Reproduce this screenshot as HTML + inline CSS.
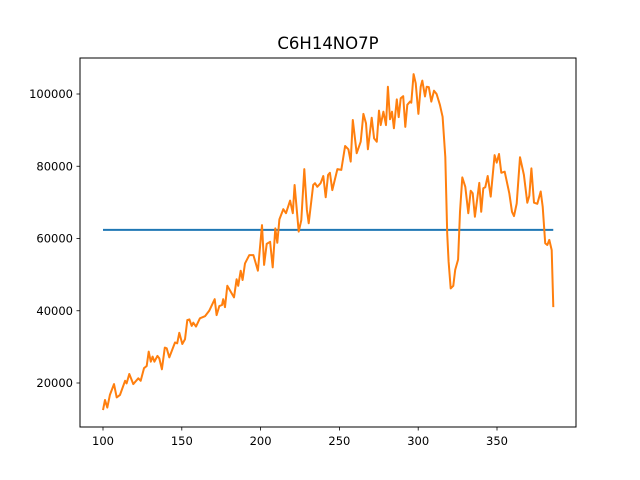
<!DOCTYPE html>
<html><head><meta charset="utf-8"><style>
body{margin:0;background:#fff;}
svg{display:block;font-family:"DejaVu Sans","Liberation Sans",sans-serif;}
</style></head><body>
<svg id="chart" width="640" height="480">
<rect width="640" height="480" fill="#fff"/>
<text x="328" y="49" font-size="16.5" text-anchor="middle">C6H14NO7P</text>
<g id="plot"></g>
<rect x="80" y="58" width="496" height="369" fill="none" stroke="#000" stroke-width="1"/>
</svg>
<script>
const xValues=[100,101.3,102.7,104.4,107.0,108.7,110.8,114.0,115.0,116.7,119.2,122.4,123.9,126.0,127.7,129.0,130.3,131.5,132.6,134.5,135.7,137.4,139.2,140.4,142.1,145.7,147.1,148.4,150.3,152.0,153.5,154.8,156.3,157.3,159.0,161.5,164.7,167.4,170.9,172.1,173.8,175.5,176.3,177.4,178.9,183.1,184.8,185.8,187.4,188.6,190.1,192.8,195.4,198.3,200.9,202.2,203.9,206.0,207.7,209.3,210.6,211.9,214.4,216.1,218.7,220.4,221.6,224.2,225.8,227.7,229.4,230.5,233.4,234.5,236.0,238.1,239.8,241.3,242.8,244.0,245.5,248.7,251.2,253.6,255.7,257.2,258.5,261.0,263.5,265.2,266.9,268.1,270.5,272.0,273.7,275.1,276.2,277.9,279.6,280.8,282.1,283.4,284.6,286.4,287.6,288.9,290.5,291.8,293.1,294.8,295.6,297.1,298.4,300.1,301.6,302.6,304.3,305.4,306.7,308.3,310.0,311.7,313.8,315.5,317.2,318.4,319.3,320.6,322.3,323.5,325.3,326.5,328.0,329.9,331.8,333.3,334.6,336.0,338.8,340.0,341.3,342.6,344.1,346.0,348.5,349.8,351.3,352.7,354.9,357.8,359.5,360.8,362.5,364.6,367.1,369.2,370.5,371.8,373.5,375.6,377.7,379.0,380.6,381.9,383.2,384.7,385.7];
const seriesValues=[12500,15300,13200,16700,19700,16000,16700,20600,19900,22500,19700,21300,20600,24100,24700,28700,25900,27300,25900,27500,26800,23800,29800,29600,27100,31200,31000,33900,30800,32100,37400,37600,35800,36700,35600,37900,38500,40000,43200,38800,41300,41600,43200,41000,46900,43700,48700,46900,51100,48500,53100,55400,55400,51100,63700,52700,58500,59100,52000,62800,58800,65300,68100,67000,70500,67000,74800,61900,65100,79200,67900,64200,74800,75300,74300,75300,77300,71400,77600,78200,73400,79200,79000,85600,84700,81300,92800,83600,86800,94500,91900,84700,93400,87700,86800,95400,91400,95100,91400,102000,93000,95100,90500,98500,93600,98800,99400,90900,97000,97900,97600,105500,103000,94500,102000,103700,99300,102000,101900,97900,100900,100000,97000,93700,82600,61400,53600,46200,46900,51300,54200,67400,76900,74300,67000,73200,72500,66000,75400,67400,73900,74200,77300,71600,83100,81000,83400,78200,78500,72500,67400,66200,69700,82500,77600,69900,71800,79400,69900,69600,73000,68800,58700,58200,59600,56800,41000];
const meanValue=62400;
const xTicks=[100,150,200,250,300,350];
const yTicks=[20000,40000,60000,80000,100000];
const xTickLabels=["100","150","200","250","300","350"];
const yTickLabels=["20000","40000","60000","80000","100000"];

const sx=v=>103+(v-100)*1.576;
const sy=v=>94+(100000-v)*0.0036125;
const NS="http://www.w3.org/2000/svg";
const g=document.getElementById('plot');
function mk(t,a){const e=document.createElementNS(NS,t);for(const k in a)e.setAttribute(k,a[k]);g.appendChild(e);return e;}
xTicks.forEach((t,i)=>{
  const l=mk('line',{x1:sx(t),x2:sx(t),y1:427,y2:430.5,stroke:'#000','stroke-width':0.8});
  
  
  const tx=mk('text',{x:sx(t),y:445,'font-size':'11.5','text-anchor':'middle'});
  tx.textContent=xTickLabels[i];
  
  
});
yTicks.forEach((t,i)=>{
  const l=mk('line',{x1:76.5,x2:80,y1:sy(t),y2:sy(t),stroke:'#000','stroke-width':0.8});
  
  
  const tx=mk('text',{x:73,y:sy(t)+4,'font-size':'11.5','text-anchor':'end'});
  tx.textContent=yTickLabels[i];
  
  
});
const mean=mk('line',{x1:sx(xValues[0]),x2:sx(xValues[xValues.length-1]),y1:sy(meanValue),y2:sy(meanValue),stroke:'#1f77b4','stroke-width':2});


const pts=xValues.map((x,i)=>sx(x).toFixed(1)+','+sy(seriesValues[i]).toFixed(1)).join(' ');
const pl=mk('polyline',{points:pts,fill:'none',stroke:'#ff7f0e','stroke-width':2,'stroke-linejoin':'round'});


</script>
</body></html>
